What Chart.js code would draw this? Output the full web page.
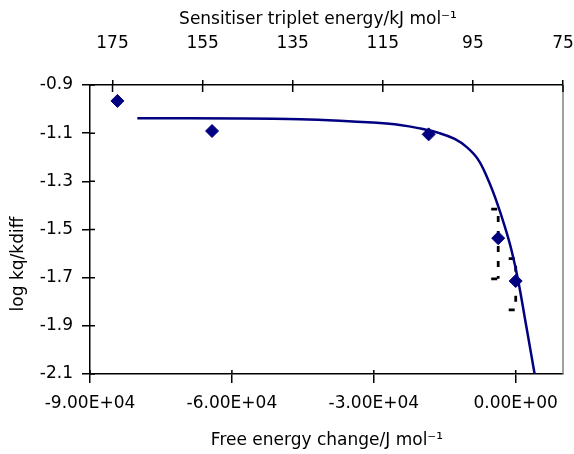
<!DOCTYPE html>
<html>
<head>
<meta charset="utf-8">
<script src="https://cdn.jsdelivr.net/npm/chart.js@4.4.1/dist/chart.umd.min.js"></script>
<style>
  html, body { margin: 0; padding: 0; background: #fff; }
  #wrap { width: 574px; height: 454px; }
</style>
</head>
<body>
<div id="wrap"><canvas id="myChart" width="574" height="454"></canvas></div>
<script>
// measured points (free energy change J/mol, log kq/kdiff)
const freeEnergy = [-84200, -64200, -18400, -3700, 0];
const logRatio = [-0.966, -1.091, -1.105, -1.536, -1.714];
const errTop = [null, null, null, -1.415, -1.621];
const errBottom = [null, null, null, -1.705, -1.834];

// fitted curve
const fitEnergy = [-80000, -58300, -45600, -37200, -30200, -24500, -20300, -16100, -12900, -10350,
  -8000, -5900, -4200, -2300, -900, 500, 2260, 4000];
const fitLog = [-1.038, -1.039, -1.042, -1.048, -1.056, -1.066, -1.080, -1.100, -1.124, -1.158,
  -1.208, -1.290, -1.375, -1.488, -1.585, -1.710, -1.904, -2.100];

// axis ticks
const bottomTicks = [-90000, -60000, -30000, 0];
const bottomTickLabels = ["-9.00E+04", "-6.00E+04", "-3.00E+04", "0.00E+00"];
const topTicks = [175, 155, 135, 115, 95, 75];
const yTicks = [-2.1, -1.9, -1.7, -1.5, -1.3, -1.1, -0.9];

const FONT = { family: "DejaVu Sans", size: 17 };

// draws error bars, right frame line, inner tick halves and axis titles
const extras = {
  id: "extras",
  beforeDatasetsDraw(chart) {
    const ctx = chart.ctx;
    const xs = chart.scales.x, ys = chart.scales.y;
    ctx.save();
    ctx.strokeStyle = "#000";
    ctx.lineWidth = 2.75;
    freeEnergy.forEach((g, i) => {
      if (errTop[i] == null) return;
      const px = xs.getPixelForValue(g);
      const top = ys.getPixelForValue(errTop[i]);
      const bot = ys.getPixelForValue(errBottom[i]);
      ctx.setLineDash([6, 9]);
      ctx.lineDashOffset = 8;
      ctx.beginPath();
      ctx.moveTo(px, top);
      ctx.lineTo(px, bot);
      ctx.stroke();
      ctx.setLineDash([]);
      ctx.beginPath();
      ctx.moveTo(px - 7, top); ctx.lineTo(px - 1, top);
      ctx.moveTo(px - 7, bot); ctx.lineTo(px - 1, bot);
      ctx.stroke();
    });
    ctx.restore();
  },
  afterDraw(chart) {
    const ctx = chart.ctx;
    const a = chart.chartArea;
    ctx.save();
    // right edge of plot frame
    ctx.strokeStyle = "#808080";
    ctx.lineWidth = 1.5;
    ctx.beginPath();
    ctx.moveTo(a.right, a.top);
    ctx.lineTo(a.right, a.bottom);
    ctx.stroke();
    // inner tick halves
    ctx.strokeStyle = "#000";
    ctx.beginPath();
    chart.scales.y.ticks.forEach(t => {
      const p = chart.scales.y.getPixelForValue(t.value);
      ctx.moveTo(a.left, p); ctx.lineTo(a.left + 5, p);
    });
    chart.scales.x.ticks.forEach(t => {
      const p = chart.scales.x.getPixelForValue(t.value);
      ctx.moveTo(p, a.bottom); ctx.lineTo(p, a.bottom - 4);
    });
    chart.scales.x2.ticks.forEach(t => {
      const p = chart.scales.x2.getPixelForValue(t.value);
      ctx.moveTo(p, a.top); ctx.lineTo(p, a.top + 7);
    });
    ctx.stroke();
    // titles
    ctx.fillStyle = "#000";
    ctx.font = FONT.size + 'px "' + FONT.family + '"';
    ctx.textAlign = "center";
    ctx.textBaseline = "middle";
    ctx.fillText("Sensitiser triplet energy/kJ mol\u207B\u00B9", 318, 20);
    ctx.fillText("Free energy change/J mol\u207B\u00B9", 327, 441);
    ctx.translate(19, 264);
    ctx.rotate(-Math.PI / 2);
    ctx.fillText("log kq/kdiff", 0, 0);
    ctx.restore();
  }
};

const ctx = document.getElementById("myChart").getContext("2d");

new Chart(ctx, {
  type: "scatter",
  data: {
    datasets: [
      {
        label: "fit",
        data: fitEnergy.map((g, i) => ({ x: g, y: fitLog[i] })),
        showLine: true,
        borderColor: "#000080",
        borderWidth: 2.5,
        pointRadius: 0,
        tension: 0.4,
        fill: false,
      },
      {
        label: "measured",
        data: freeEnergy.map((g, i) => ({ x: g, y: logRatio[i] })),
        showLine: false,
        pointStyle: "rectRot",
        pointRadius: 6.5,
        backgroundColor: "#000080",
        borderColor: "#000080",
        borderWidth: 1,
      },
    ],
  },
  options: {
    responsive: false,
    animation: false,
    layout: { padding: 0 },
    plugins: {
      legend: { display: false },
      tooltip: { enabled: false },
    },
    scales: {
      x: {
        type: "linear",
        position: "bottom",
        min: -90000,
        max: 10000,
        afterBuildTicks: s => { s.ticks = bottomTicks.map(v => ({ value: v })); },
        afterFit: s => { s.height = 80; s.paddingLeft = 0; s.paddingRight = 11; },
        ticks: {
          callback: v => bottomTickLabels[bottomTicks.indexOf(v)],
          color: "#000",
          font: FONT,
          padding: 10,
          maxRotation: 0,
          autoSkip: false,
        },
        grid: { drawOnChartArea: false, tickLength: 9, color: "#000", lineWidth: 1.5 },
        border: { color: "#000", width: 1.5 },
      },
      x2: {
        type: "linear",
        position: "top",
        min: 75,
        max: 180,
        reverse: true,
        afterBuildTicks: s => { s.ticks = topTicks.map(v => ({ value: v })); },
        afterFit: s => { s.height = 85; s.paddingLeft = 0; s.paddingRight = 11; },
        ticks: {
          callback: v => String(v),
          color: "#000",
          font: FONT,
          padding: 26,
          maxRotation: 0,
          autoSkip: false,
        },
        grid: { drawOnChartArea: false, tickLength: 5, color: "#000", lineWidth: 1.5 },
        border: { color: "#000", width: 1.5 },
      },
      y: {
        type: "linear",
        min: -2.1,
        max: -0.9,
        afterBuildTicks: s => { s.ticks = yTicks.map(v => ({ value: v })); },
        afterFit: s => { s.width = 90; },
        ticks: {
          callback: v => v.toFixed(1),
          color: "#000",
          font: FONT,
          padding: 9,
          autoSkip: false,
        },
        grid: { drawOnChartArea: false, tickLength: 8, color: "#000", lineWidth: 1.5 },
        border: { color: "#000", width: 1.5 },
      },
    },
  },
  plugins: [extras],
});
</script>
</body>
</html>
